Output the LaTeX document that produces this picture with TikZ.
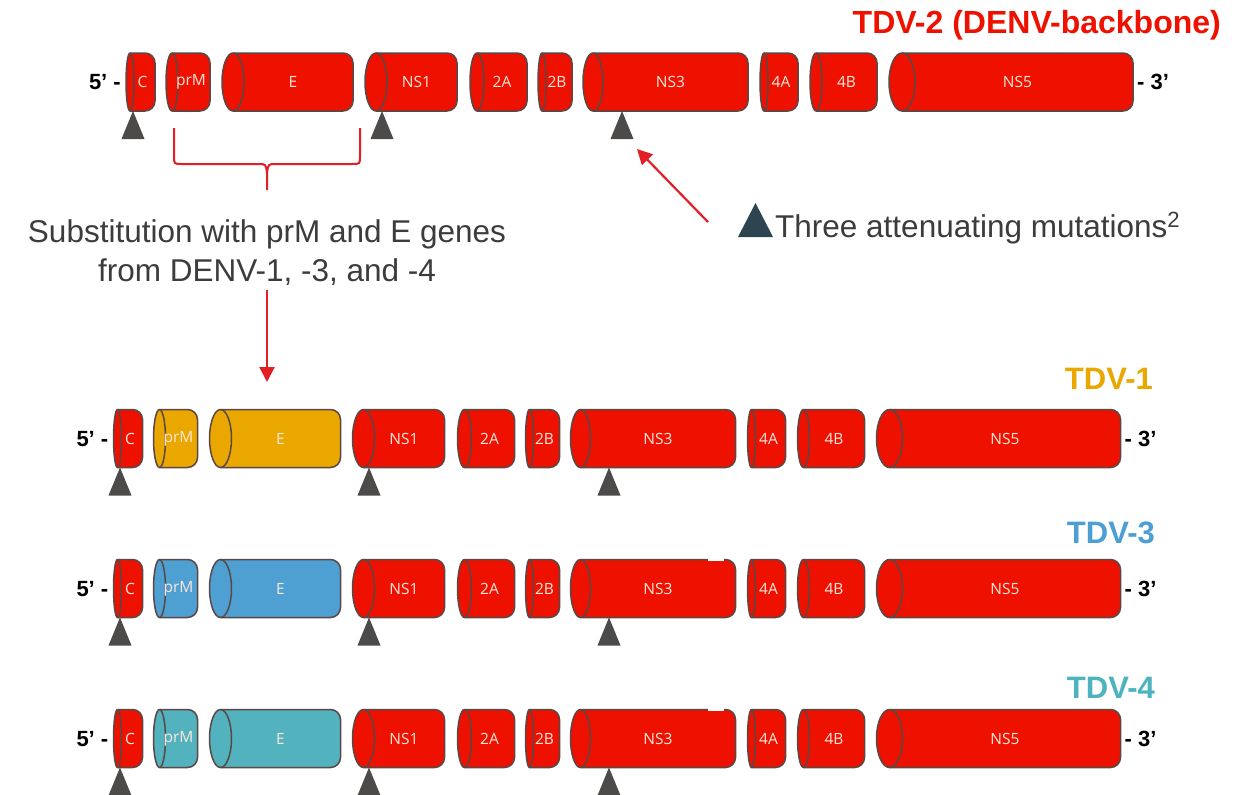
\documentclass[tikz,border=0pt]{standalone}
\usepackage{fontspec}
\setmainfont{Liberation Sans}
\newfontfamily\segfont{Open Sans}
\usetikzlibrary{arrows.meta}
\definecolor{segred}{HTML}{EE1100}
\definecolor{segorange}{HTML}{EAA700}
\definecolor{segblue}{HTML}{4E9FD2}
\definecolor{segteal}{HTML}{52B2BE}
\definecolor{segedge}{HTML}{5A4846}
\definecolor{seglbl}{HTML}{FDE6DC}
\definecolor{mutgray}{HTML}{4D4A4A}
\definecolor{legtri}{HTML}{2D4550}
\definecolor{arrowred}{HTML}{E31E24}
\definecolor{bodytxt}{HTML}{3C3C3C}
\definecolor{tdvone}{HTML}{EAA700}
\definecolor{tdvthree}{HTML}{4B9FD5}
\definecolor{tdvfour}{HTML}{4DB3BF}
\tikzset{
  segline/.style={draw=segedge, line width=1.5pt},
  seglabel/.style={font=\segfont\fontsize{15.5}{17}\selectfont, text=seglbl, inner sep=0pt},
  endlabel/.style={font=\bfseries\fontsize{22}{26}\selectfont, inner sep=0pt},
  titlelabel/.style={font=\bfseries\fontsize{31}{36}\selectfont, inner sep=0pt},
  bodylabel/.style={text=bodytxt, inner sep=0pt, font=\fontsize{31.5}{38.5}\selectfont},
  redarrow/.style={draw=arrowred, line width=2.2pt, -{Triangle[length=15pt,width=15pt]}},
  bracepath/.style={draw=arrowred, line width=2pt},
}
% segment: #1 x0, #2 x1, #3 yc (image), #4 rx, #5 fill, #6 label, #7 name
\newcommand\seg[7]{%
  \pgfmathsetmacro\gA{#1+#4}%
  \pgfmathsetmacro\gX{#2}%
  \pgfmathsetmacro\gB{#2-10}%
  \pgfmathsetmacro\gT{-(#3)+29}%
  \pgfmathsetmacro\gD{-(#3)-29}%
  \pgfmathsetmacro\gE{-(#3)-19}%
  \pgfmathsetmacro\gM{(#1+#2+#4)/2}%
  \pgfmathsetmacro\gY{-(#3)}%
  \filldraw[segline, fill=#5] (\gA,\gT) -- (\gB,\gT) arc[start angle=90,end angle=0,radius=10] -- (\gX,\gE) arc[start angle=0,end angle=-90,radius=10] -- (\gA,\gD) arc[start angle=270,end angle=90,x radius=#4,y radius=29] -- cycle;
  \draw[segline] (\gA,\gT) arc[start angle=90,end angle=-90,x radius=#4,y radius=29];
  \node[seglabel] (#7) at (\gM,\gY) {#6};
}
% row: #1 dx, #2 yc, #3 fill for prM/E, #4 prefix
\newcommand\generow[4]{%
  \seg{126#1}{155#1}{#2}{4}{segred}{C}{#4C}%
  \seg{166#1}{210#1}{#2}{6}{#3}{prM}{#4prM}%
  \seg{222#1}{353#1}{#2}{11}{#3}{E}{#4E}%
  \seg{365#1}{457#1}{#2}{11}{segred}{NS1}{#4NSa}%
  \seg{470#1}{527#1}{#2}{7}{segred}{2A}{#4twoA}%
  \seg{538#1}{572#1}{#2}{4}{segred}{2B}{#4twoB}%
  \seg{583#1}{748#1}{#2}{10}{segred}{NS3}{#4NSc}%
  \seg{760#1}{798#1}{#2}{4}{segred}{4A}{#4fourA}%
  \seg{810#1}{877#1}{#2}{6}{segred}{4B}{#4fourB}%
  \seg{889#1}{1133#1}{#2}{13}{segred}{NS5}{#4NSe}%
  \node[endlabel, anchor=base east] (#4five) at ({121#1},{-(#2)-7.5}) {5’ -};
  \node[endlabel, anchor=base west] (#4three) at ({1137#1},{-(#2)-7.5}) {- 3’};
}
\newcommand\mutri[2]{%
  \fill[mutgray] (#1,{-(#2)}) -- ({#1-11.5},{-(#2)-28}) -- ({#1+11.5},{-(#2)-28}) -- cycle;
}
\begin{document}
\begin{tikzpicture}[x=1pt,y=1pt]
\useasboundingbox (0,0) rectangle (1251,-795);
\fill[white] (0,0) rectangle (1251,-795);

% titles
\node[titlelabel, text=segred, anchor=base east, font=\bfseries\fontsize{32}{36}\selectfont] (t2) at (1221,-34) {TDV-2 (DENV-backbone)};
\node[titlelabel, text=tdvone, anchor=base east] (t1) at (1153,-389) {TDV-1};
\node[titlelabel, text=tdvthree, anchor=base east] (t3) at (1155,-543) {TDV-3};
\node[titlelabel, text=tdvfour, anchor=base east] (t4) at (1155,-698) {TDV-4};

% rows
\generow{+0}{82}{segred}{ra}
\generow{-12.5}{438.5}{segorange}{rb}
\generow{-12.5}{588.5}{segblue}{rc}
\fill[white] (708,-556) rectangle (724,-560.6);
\generow{-12.5}{738.5}{segteal}{rd}
\fill[white] (708,-706) rectangle (724,-710.6);

% attenuating mutations
\mutri{133}{111}\mutri{382}{111}\mutri{622}{111}
\mutri{120}{467.5}\mutri{369}{467.5}\mutri{609}{467.5}
\mutri{120}{617.5}\mutri{369}{617.5}\mutri{609}{617.5}
\mutri{120}{767.5}\mutri{369}{767.5}\mutri{609}{767.5}

% brace
\draw[bracepath] (174,-128) -- (174,-156) .. controls (174,-164) .. (182,-164) -- (258,-164) .. controls (266,-164) .. (267,-174) -- (267,-190);
\draw[bracepath] (360,-128) -- (360,-156) .. controls (360,-164) .. (352,-164) -- (276,-164) .. controls (268,-164) .. (267,-174);

% substitution text
\node[bodylabel, anchor=base] (sub1) at (267,-242) {Substitution with prM and E genes};
\node[bodylabel, anchor=base] (sub2) at (267,-281) {from DENV-1, -3, and -4};
\coordinate (arrS) at (267,-290);
\coordinate (arrE) at (267,-382);
\draw[redarrow] (arrS) -- (arrE);

% legend
\fill[legtri] (738,-237) -- (773,-237) -- (755.5,-203) -- cycle;
\node[bodylabel, anchor=base west] (leg) at (775,-237) {Three attenuating mutations\textsuperscript{2}};
\coordinate (legS) at (708,-222);
\coordinate (mutTip) at (637,-149);
\draw[redarrow] (legS) -- (mutTip);
\end{tikzpicture}
\end{document}
